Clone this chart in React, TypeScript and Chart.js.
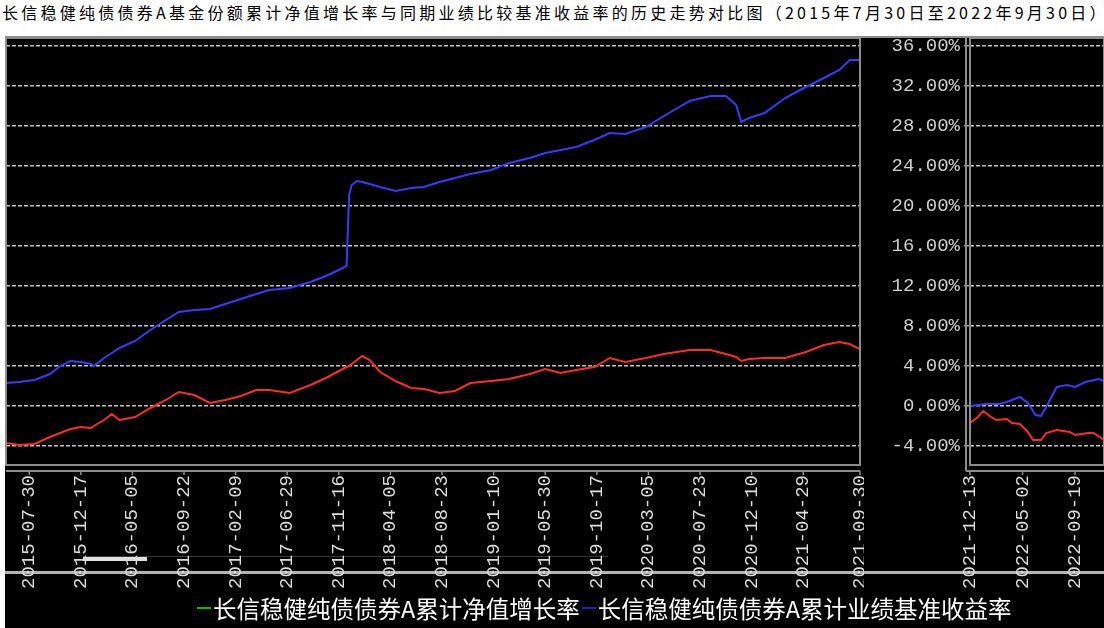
import React, { useEffect, useRef } from "react";
import { Chart, registerables } from "chart.js";

Chart.register(...registerables);

// ---------- data ----------
const titleText =
  "长信稳健纯债债券A基金份额累计净值增长率与同期业绩比较基准收益率的历史走势对比图（2015年7月30日至2022年9月30日）";
const seriesNames = ["长信稳健纯债债券A累计净值增长率", "长信稳健纯债债券A累计业绩基准收益率"];

// main period (weekly index)
const mainDays = [
  0, 5, 11, 17, 21, 25, 29, 33, 34, 38, 41, 44, 50, 56, 62, 67, 73, 79, 85, 91, 97, 102, 110, 118, 124, 129,
  132, 133, 134, 136, 138, 141, 145, 151, 157, 162, 168, 174, 180, 188, 195, 203, 209, 215, 221, 228, 234,
  240, 248, 255, 265, 273, 279, 283, 285, 288, 294, 302, 310, 317, 323, 327, 331,
];
const mainNav = [
  -3.7, -3.9, -3.8, -3.1, -2.7, -2.3, -2.1, -2.2, -2.0, -1.4, -0.8, -1.4, -1.1, -0.2, 0.6, 1.4, 1.1, 0.3, 0.6,
  1.0, 1.6, 1.6, 1.3, 2.1, 2.8, 3.5, 3.9, 4.0, 4.2, 4.6, 5.0, 4.6, 3.4, 2.5, 1.8, 1.7, 1.3, 1.5, 2.3, 2.5, 2.7,
  3.2, 3.7, 3.3, 3.6, 3.9, 4.8, 4.4, 4.8, 5.2, 5.6, 5.6, 5.2, 4.9, 4.5, 4.7, 4.8, 4.8, 5.4, 6.1, 6.4, 6.2, 5.7,
];
const mainBench = [
  2.3, 2.4, 2.6, 3.2, 4.0, 4.5, 4.4, 4.2, 4.0, 4.8, 5.3, 5.8, 6.5, 7.6, 8.6, 9.4, 9.6, 9.7, 10.2, 10.7, 11.2,
  11.6, 11.8, 12.4, 13.0, 13.6, 14.0, 21.1, 22.1, 22.5, 22.4, 22.2, 21.9, 21.5, 21.8, 21.9, 22.4, 22.8, 23.2,
  23.6, 24.3, 24.8, 25.3, 25.6, 25.9, 26.6, 27.3, 27.2, 27.9, 29.0, 30.5, 31.0, 31.0, 30.1, 28.4, 28.8, 29.3,
  30.8, 31.9, 32.8, 33.6, 34.6, 34.6,
];
const mainTickDays = [9, 29, 49, 69, 89, 109, 129, 149, 169, 189, 209, 229, 249, 269, 289, 309, 331];
const mainTickLabels = [
  "2015-07-30", "2015-12-17", "2016-05-05", "2016-09-22", "2017-02-09", "2017-06-29", "2017-11-16",
  "2018-04-05", "2018-08-23", "2019-01-10", "2019-05-30", "2019-10-17", "2020-03-05", "2020-07-23",
  "2020-12-10", "2021-04-29", "2021-09-30",
];

// latest period
const rightNavDays = [0, 3, 5, 8, 10, 14, 16, 19, 22, 24, 27, 29, 33, 38, 40, 45, 47, 51];
const rightNav = [-1.7, -1.1, -0.5, -1.1, -1.4, -1.3, -1.7, -1.8, -2.6, -3.4, -3.4, -2.7, -2.4, -2.6, -2.9, -2.7, -2.7, -3.4];
const rightBenchDays = [0, 6, 11, 14, 19, 22, 25, 27, 29, 33, 37, 40, 44, 49, 51];
const rightBench = [0.0, 0.2, 0.2, 0.4, 0.9, 0.3, -0.9, -1.0, -0.1, 1.9, 2.1, 1.9, 2.4, 2.7, 2.5];
const rightTickDays = [0, 20, 40];
const rightTickLabels = ["2021-12-13", "2022-05-02", "2022-09-19"];

const yTicks = [-4, 0, 4, 8, 12, 16, 20, 24, 28, 32, 36];
const Y_MIN = -5.9;
const Y_MAX = 36.8;

// ---------- styles ----------
const NAV_COLOR = "#ff2a2a";
const BENCH_COLOR = "#3a3aff";
const LABEL_FONT = { family: "'Liberation Mono', 'DejaVu Sans Mono', monospace", size: 19 };

const framePlugin = {
  id: "frame",
  afterDraw(chart: any, _a: any, opts: any) {
    const { ctx, chartArea: a } = chart;
    ctx.save();
    ctx.strokeStyle = "#8c8c8c";
    ctx.lineWidth = 2;
    ctx.strokeRect(a.left, a.top, a.right - a.left, a.bottom - a.top);
    const ext = opts && opts.ext ? opts.ext : 0;
    const yb = a.bottom + 6;
    ctx.beginPath();
    ctx.moveTo(a.left - ext, yb);
    ctx.lineTo(a.right, yb);
    if (ext) {
      ctx.moveTo(a.left - ext, a.top);
      ctx.lineTo(a.left - ext, yb);
    }
    ctx.stroke();
    const xs = chart.scales.x;
    ctx.lineWidth = 1.5;
    ctx.beginPath();
    xs.ticks.forEach((t: any) => {
      const x = xs.getPixelForValue(t.value);
      ctx.moveTo(x, yb);
      ctx.lineTo(x, yb + 4);
    });
    ctx.stroke();
    ctx.restore();
  },
};

function makeConfig(
  navDays: number[],
  nav: number[],
  benchDays: number[],
  bench: number[],
  xMax: number,
  tickDays: number[],
  tickLabels: string[],
  showY: boolean
): any {
  return {
    type: "line",
    data: {
      datasets: [
        {
          label: seriesNames[0],
          data: navDays.map((d, i) => ({ x: d, y: nav[i] })),
          borderColor: NAV_COLOR,
          borderWidth: 2,
          pointRadius: 0,
          tension: 0,
        },
        {
          label: seriesNames[1],
          data: benchDays.map((d, i) => ({ x: d, y: bench[i] })),
          borderColor: BENCH_COLOR,
          borderWidth: 2,
          pointRadius: 0,
          tension: 0,
        },
      ],
    },
    options: {
      responsive: false,
      animation: false,
      layout: { padding: { left: showY ? 0 : 6, top: 38, right: showY ? 0 : 4, bottom: 0 } },
      plugins: { legend: { display: false }, tooltip: { enabled: false }, frame: { ext: showY ? 4 : 0 } },
      scales: {
        x: {
          type: "linear",
          min: 0,
          max: xMax,
          afterBuildTicks: (s: any) => {
            s.ticks = tickDays.map((v) => ({ value: v }));
          },
          afterFit: (s: any) => {
            s.height = 135;
            s.paddingLeft = 0;
            s.paddingRight = 0;
          },
          grid: { display: false, drawTicks: false },
          border: { display: false },
          ticks: {
            autoSkip: false,
            minRotation: 90,
            maxRotation: 90,
            padding: 10,
            color: "#dcdcdc",
            font: LABEL_FONT,
            callback: (v: any) => {
              const i = tickDays.indexOf(v);
              return i >= 0 ? tickLabels[i] : "";
            },
          },
        },
        y: {
          type: "linear",
          min: Y_MIN,
          max: Y_MAX,
          afterBuildTicks: (s: any) => {
            s.ticks = yTicks.map((v) => ({ value: v }));
          },
          afterFit: (s: any) => {
            s.width = showY ? 108 : 0;
          },
          grid: {
            color: "#c4c4c4",
            lineWidth: 1.5,
            drawTicks: showY,
            tickLength: 6,
            tickColor: "#a0a0a0",
            tickBorderDash: [],
          },
          border: { display: false, dash: [4, 2] },
          ticks: {
            display: showY,
            padding: 4,
            color: "#cfcfcf",
            font: LABEL_FONT,
            callback: (v: any) => Number(v).toFixed(2) + "%",
          },
        },
      },
    },
    plugins: [framePlugin],
  };
}

export default function App() {
  const mainRef = useRef<HTMLCanvasElement | null>(null);
  const rightRef = useRef<HTMLCanvasElement | null>(null);

  useEffect(() => {
    const c1 = new Chart(
      mainRef.current as HTMLCanvasElement,
      makeConfig(mainDays, mainNav, mainDays, mainBench, 331, mainTickDays, mainTickLabels, false)
    );
    const c2 = new Chart(
      rightRef.current as HTMLCanvasElement,
      makeConfig(rightNavDays, rightNav, rightBenchDays, rightBench, 51, rightTickDays, rightTickLabels, true)
    );
    return () => {
      c1.destroy();
      c2.destroy();
    };
  }, []);

  const abs = (s: React.CSSProperties): React.CSSProperties => ({ position: "absolute", ...s });

  return (
    <div
      style={{
        position: "fixed",
        left: 0,
        top: 0,
        width: 1104,
        height: 628,
        background: "#ffffff",
        overflow: "hidden",
      }}
    >
      <div
        style={abs({
          left: 2,
          top: 2,
          whiteSpace: "nowrap",
          fontFamily: "'Noto Sans CJK SC', sans-serif",
          fontSize: 16,
          letterSpacing: 3.25,
          color: "#000",
          lineHeight: "20px",
        })}
      >
        {titleText}
      </div>
      <div style={abs({ left: 5, top: 36, width: 1099, height: 592, background: "#000" })} />
      <div style={abs({ left: 5, top: 36, width: 1099, height: 2, background: "#8c8c8c" })} />
      <div style={abs({ left: 83, top: 556, width: 525, height: 1, background: "#3a3a3a" })} />
      <div style={abs({ left: 83, top: 557, width: 64, height: 4, background: "#e0e0e0" })} />
      <div style={abs({ left: 5, top: 571, width: 1099, height: 3, background: "#b4b4b4" })} />
      <canvas ref={mainRef} width={864} height={600} style={abs({ left: 0, top: 0, width: 864, height: 600 })} />
      <canvas ref={rightRef} width={242} height={600} style={abs({ left: 862, top: 0, width: 242, height: 600 })} />
      <div
        style={abs({
          left: 197,
          top: 593,
          display: "flex",
          alignItems: "center",
          whiteSpace: "nowrap",
          color: "#ffffff",
          fontFamily: "'Noto Sans CJK SC', sans-serif",
          fontSize: 23.5,
          lineHeight: "30px",
        })}
      >
        <span style={{ display: "inline-block", width: 14, height: 2, background: "#00c000", marginRight: 2 }} />
        <span>{seriesNames[0]}</span>
        <span
          style={{ display: "inline-block", width: 14, height: 2, background: "#2020c0", marginLeft: 2, marginRight: 2 }}
        />
        <span>{seriesNames[1]}</span>
      </div>
    </div>
  );
}
